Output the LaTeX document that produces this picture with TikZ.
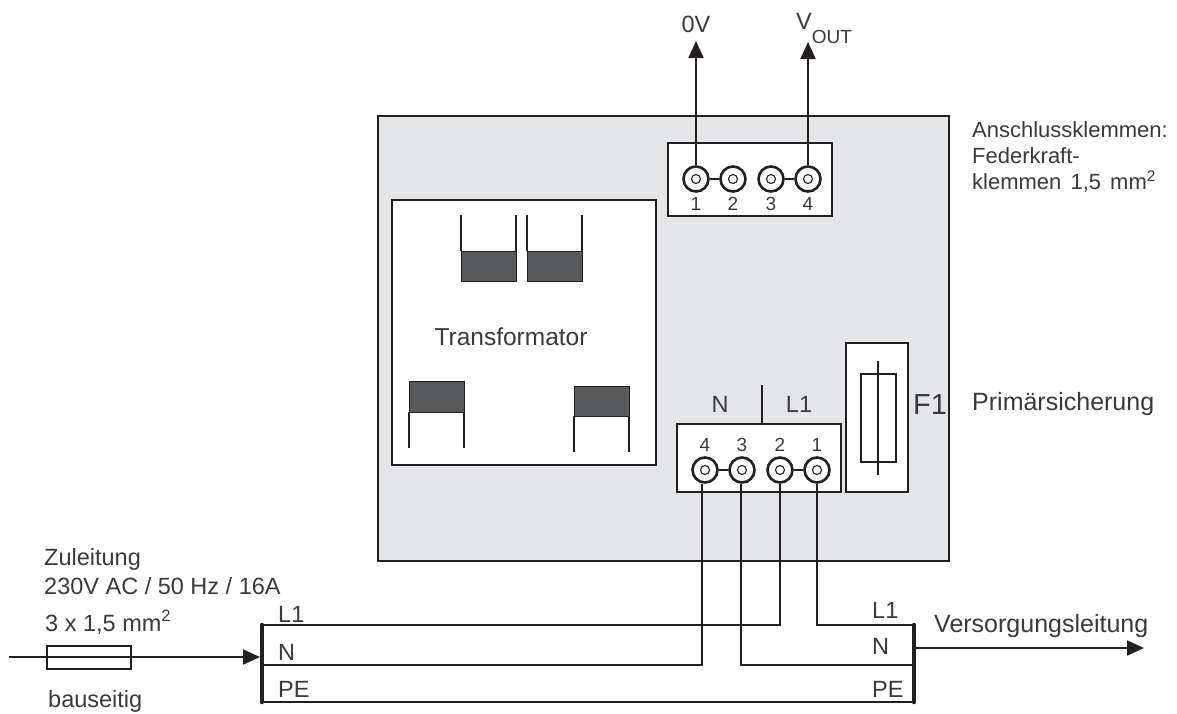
\documentclass[tikz,border=0pt]{standalone}
\usepackage{fontspec}
\setmainfont{Liberation Sans}
\usetikzlibrary{arrows.meta,calc}
\definecolor{ink}{HTML}{231F20}
\definecolor{txt}{HTML}{3A3A3C}
\definecolor{panel}{HTML}{E4E5E7}
\definecolor{coil}{HTML}{58595B}
\tikzset{
  x=1pt,y=-1pt,
  wire/.style={draw=ink,line width=2.1pt},
  frame/.style={draw=ink,line width=2.5pt},
  fusebody/.style={draw=ink,line width=2.2pt},
  whitebox/.style={frame,fill=white},
  bar/.style={draw=ink,line width=4.5pt},
  tip/.style={wire,-{Triangle[length=17pt,width=15pt]},shorten >=0pt},
  outerterm/.style={circle,draw=ink,line width=2.6pt,fill=white,minimum size=25pt,inner sep=0pt},
  innerterm/.style={circle,draw=ink,line width=1.1pt,fill=white,minimum size=9pt,inner sep=0pt},
  lab/.style={text=txt,inner sep=0pt,anchor=base,font=\fontsize{23.5}{28}\selectfont},
  labl/.style={lab,anchor=base west},
  num/.style={text=txt,inner sep=0pt,anchor=base,font=\fontsize{19}{22}\selectfont},
  coilfill/.style={draw=ink,line width=1pt,fill=coil},
  coilleg/.style={draw=ink,line width=1.3pt},
}
\begin{document}
\begin{tikzpicture}
\useasboundingbox (0,0) rectangle (1177,713);
\fill[white] (0,0) rectangle (1177,713);
% main panel
\draw[frame,fill=panel] (378,116) rectangle (949,561);
% transformer
\draw[whitebox] (392,200) rectangle (656,465);
\node[lab,font=\fontsize{24.5}{28}\selectfont] (trafo) at (511,345) {Transformator};
\draw[coilleg] (461,215) -- (461,251) (516,215) -- (516,251);
\draw[coilfill] (461,251) rectangle (516,281);
\draw[coilleg] (527,215) -- (527,251) (582,215) -- (582,251);
\draw[coilfill] (527,251) rectangle (582,281);
\draw[coilleg] (409,412) -- (409,448) (464,412) -- (464,448);
\draw[coilfill] (409,381) rectangle (464,412);
\draw[coilleg] (574,416) -- (574,452) (629,416) -- (629,452);
\draw[coilfill] (574,386) rectangle (629,416);
% output terminal block
\draw[whitebox] (668,143) rectangle (832,216);
\foreach \n/\x in {1/696,2/733,3/771,4/808}{
  \node[outerterm] (o\n) at (\x,179) {};
  \node[innerterm] at (o\n) {};
  \node[num] (on\n) at (\x,210) {\n};
}
\draw[wire] (o1) -- (o2) (o3) -- (o4);
\node[lab] (zero) at (696,32) {0V};
\node[labl] (vout) at (796,29) {V\raisebox{-14pt}{\fontsize{19}{22}\selectfont OUT}};
\coordinate (zerotip) at (696,41);
\coordinate (vouttip) at (808,42);
\draw[tip] (o1.north) -- (zerotip);
\draw[tip] (o4.north) -- (vouttip);
% input terminal block
\draw[whitebox] (677,424) rectangle (841,492);
\foreach \n/\x in {4/705,3/742,2/780,1/817}{
  \node[outerterm] (i\n) at (\x,470) {};
  \node[innerterm] at (i\n) {};
  \node[num] (in\n) at (\x,451) {\n};
}
\draw[wire] (i4) -- (i3) (i2) -- (i1);
\coordinate (divt) at (762,385);
\coordinate (divb) at (762,424);
\draw[wire] (divt) -- (divb);
\node[lab] (nlab) at (720,412) {N};
\node[lab] (l1lab) at (799,412) {L1};
% fuse F1
\draw[whitebox] (846,343) rectangle (908,492);
\draw[fusebody] (861,374) rectangle (896,462);
\coordinate (fuset) at (878,361);
\coordinate (fuseb) at (878,475);
\draw[wire] (fuset) -- (fuseb);
\node[labl,font=\fontsize{29}{32}\selectfont] (f1) at (913,414) {F1};
\node[labl,font=\fontsize{25}{28}\selectfont] (prim) at (972,410) {Primärsicherung};
% notes
\node[text=txt,inner sep=0pt,font=\fontsize{22}{26}\selectfont,align=left,anchor=north west] (klemm) at (972,121) {Anschlussklemmen:\\Federkraft-\\klemmen\hspace{3pt} 1,5\hspace{3pt} mm\textsuperscript{2}};
% bus
\coordinate (lt) at (262,625);
\coordinate (lm) at (262,665);
\coordinate (lb) at (262,702);
\coordinate (rt) at (914,625);
\coordinate (rm) at (914,665);
\coordinate (rb) at (914,702);
\draw[wire] (lb) -- (rb);
\draw[wire] (i4.south -| 702,0) -- (702,665) -- (lm);
\draw[wire] (i3.south -| 741,0) -- (741,665) -- (rm);
\draw[wire] (i2.south) -- (lt -| i2.south) -- (lt);
\draw[wire] (i1.south) -- (rt -| i1.south) -- (rt);
\draw[bar,line cap=round] (lt) -- (lb);
\draw[bar,line cap=round] (rt) -- (rb);
\node[labl] (bl1) at (278,622) {L1};
\node[labl] (bn) at (278,660) {N};
\node[labl] (bpe) at (278,697) {PE};
\node[labl] (bl1r) at (872,618) {L1};
\node[labl] (bnr) at (872,654) {N};
\node[labl] (bper) at (872,697) {PE};
% feed
\coordinate (feedstart) at (9,657);
\coordinate (feedend) at (260,657);
\draw[tip] (feedstart) -- (feedend);
\draw[fusebody] (47,646) rectangle (131,669);
\coordinate (supplystart) at (914,648);
\coordinate (supplyend) at (1144,648);
\draw[tip] (supplystart) -- (supplyend);
\node[labl,font=\fontsize{25}{28}\selectfont] (vers) at (934,632) {Versorgungsleitung};
\node[labl] (zul) at (44,565) {Zuleitung};
\node[labl] (volt) at (44,594) {230V AC / 50 Hz / 16A};
\node[labl] (quer) at (45,631) {3 x 1,5 mm\textsuperscript{2}};
\node[labl] (baus) at (48,707) {bauseitig};
\end{tikzpicture}
\end{document}
